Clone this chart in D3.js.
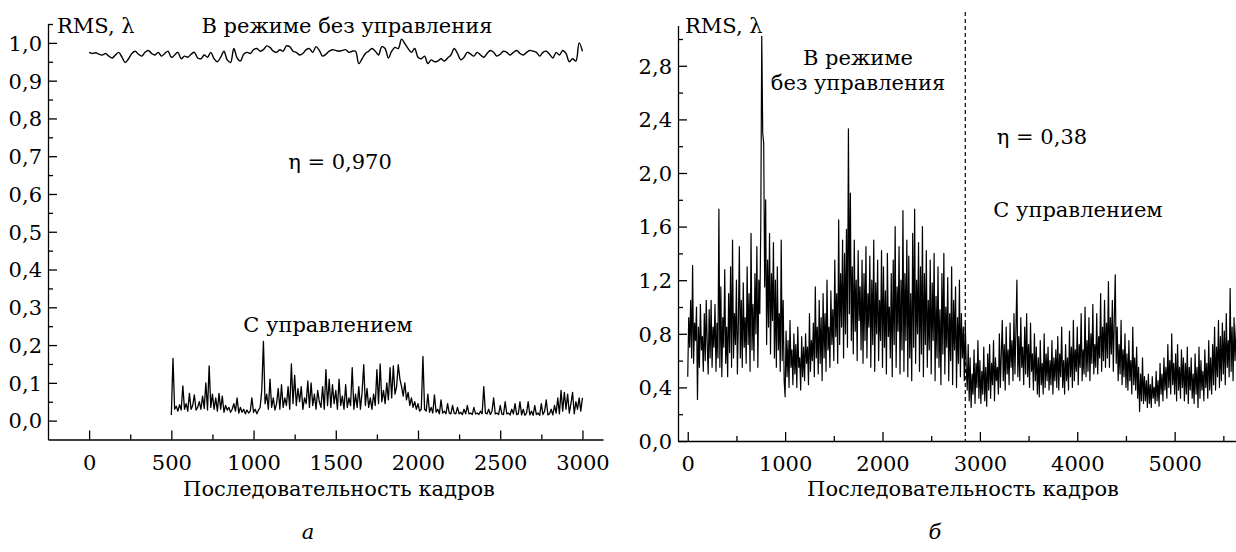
<!DOCTYPE html>
<html>
<head>
<meta charset="utf-8">
<script src="https://cdn.jsdelivr.net/npm/d3@7"></script>
<style>
  body { margin: 0; background: #fff; }
  svg text { font-family: "DejaVu Serif", "Liberation Serif", serif; font-size: 21px; fill: #000; }
  .axis path, .axis line { stroke: #000; stroke-width: 1.3; }
</style>
</head>
<body>
<div class="chart"></div>
<script>
//Data: panel a, frame step 20 (uncontrolled) and 10 (controlled)
const leftFreeStart = 0, leftFreeStep = 20;
const leftFree = [
  0.975,0.972,0.974,0.970,0.968,0.972,0.965,0.960,0.968,0.975,0.962,
  0.948,0.958,0.972,0.978,0.970,0.965,0.975,0.980,0.972,0.968,
  0.975,0.965,0.972,0.978,0.962,0.968,0.975,0.958,0.965,0.962,
  0.970,0.975,0.960,0.958,0.968,0.962,0.975,0.958,0.950,0.962,
  0.978,0.955,0.948,0.985,0.960,0.952,0.970,0.975,0.972,0.982,
  0.985,0.978,0.982,0.992,0.988,0.978,0.975,0.982,0.978,0.992,
  0.990,0.978,0.975,0.968,0.972,0.982,0.985,0.975,0.990,0.980,
  0.965,0.970,0.978,0.982,0.980,0.978,0.980,0.982,0.975,0.978,
  0.978,0.945,0.958,0.972,0.978,0.985,0.978,0.968,0.990,0.985,
  0.960,0.978,0.988,0.985,1.010,0.998,0.985,0.975,0.985,0.962,
  0.958,0.965,0.945,0.955,0.950,0.952,0.958,0.952,0.960,0.968,
  0.985,0.972,0.955,0.962,0.975,0.970,0.965,0.975,0.968,0.962,
  0.972,0.980,0.975,0.965,0.970,0.978,0.975,0.968,0.975,0.980,
  0.972,0.968,0.975,0.980,0.978,0.975,0.965,0.975,0.978,0.970,
  0.960,0.975,0.968,0.980,0.972,0.950,0.958,0.952,1.000,0.978
];

const leftCtrlStart = 500, leftCtrlStep = 10;
const leftCtrl = [
  0.015,0.165,0.030,0.038,0.025,0.042,0.028,0.092,0.030,0.045,
  0.025,0.072,0.030,0.040,0.068,0.028,0.035,0.050,0.030,0.065,
  0.032,0.100,0.028,0.145,0.035,0.070,0.030,0.060,0.025,0.072,
  0.030,0.065,0.022,0.040,0.028,0.035,0.022,0.030,0.045,0.025,
  0.060,0.020,0.035,0.022,0.030,0.018,0.028,0.020,0.025,0.060,
  0.022,0.030,0.018,0.028,0.035,0.080,0.210,0.045,0.070,0.030,
  0.110,0.035,0.060,0.028,0.045,0.085,0.030,0.095,0.035,0.060,
  0.040,0.090,0.030,0.150,0.045,0.120,0.040,0.085,0.050,0.090,
  0.030,0.060,0.045,0.105,0.035,0.100,0.040,0.070,0.030,0.080,
  0.050,0.035,0.090,0.030,0.135,0.040,0.110,0.035,0.095,0.045,
  0.080,0.030,0.110,0.040,0.065,0.030,0.095,0.035,0.060,0.040,
  0.140,0.030,0.070,0.035,0.090,0.030,0.075,0.148,0.040,0.085,
  0.035,0.060,0.030,0.070,0.040,0.135,0.045,0.150,0.050,0.080,
  0.045,0.100,0.055,0.140,0.060,0.145,0.070,0.090,0.148,0.110,
  0.090,0.065,0.100,0.055,0.075,0.040,0.060,0.035,0.050,0.030,
  0.045,0.025,0.030,0.170,0.030,0.025,0.070,0.022,0.035,0.020,
  0.068,0.022,0.030,0.018,0.055,0.020,0.025,0.018,0.045,0.020,
  0.018,0.040,0.020,0.018,0.035,0.018,0.022,0.016,0.030,0.018,
  0.040,0.018,0.020,0.016,0.035,0.018,0.020,0.016,0.025,0.018,
  0.090,0.020,0.018,0.030,0.016,0.025,0.060,0.018,0.020,0.016,
  0.040,0.018,0.016,0.050,0.018,0.020,0.015,0.030,0.018,0.045,
  0.016,0.018,0.050,0.015,0.030,0.014,0.020,0.050,0.015,0.025,
  0.014,0.040,0.016,0.020,0.014,0.045,0.016,0.025,0.055,0.015,
  0.018,0.030,0.015,0.040,0.020,0.060,0.018,0.080,0.025,0.075,
  0.030,0.070,0.020,0.045,0.075,0.018,0.050,0.030,0.060,0.025,
  0.060
];

//Data: panel б, frame step 10, dashed switch at 2850
const rightFreeStart = 0, rightStep = 10, switchFrame = 2850;
const rightFree = [
  0.48,0.92,0.70,1.05,0.62,1.31,0.58,0.88,0.75,1.00,
  0.31,0.85,0.55,1.02,0.68,0.78,0.52,0.95,0.60,1.05,
  0.72,0.50,0.98,0.62,1.05,0.55,0.85,0.70,1.02,0.52,
  0.88,0.62,1.73,0.55,1.15,0.48,0.92,0.70,1.28,0.58,
  0.85,0.48,1.10,0.66,1.30,0.55,1.50,0.62,0.95,0.72,
  1.20,0.50,0.88,1.45,0.62,1.05,0.55,1.18,0.70,0.92,
  0.58,1.30,0.72,1.10,0.52,1.55,0.68,1.02,0.60,1.25,
  0.80,1.45,0.55,1.20,0.95,1.60,3.02,2.30,2.22,1.15,
  1.80,0.72,1.35,0.85,1.55,0.65,1.25,0.90,1.48,0.62,
  1.20,0.55,1.30,0.68,0.95,0.52,1.50,0.60,1.05,0.45,
  0.33,0.82,0.48,0.75,0.40,0.90,0.55,0.68,0.42,0.80,
  0.50,0.72,0.40,0.85,0.55,0.62,0.38,0.78,0.48,0.70,
  0.45,0.80,0.58,0.70,0.42,0.95,0.52,0.75,0.60,0.88,
  0.48,1.15,0.62,0.85,0.50,1.05,0.58,0.92,0.45,1.10,
  0.62,0.95,0.52,1.20,0.68,0.85,0.55,1.12,0.72,0.98,
  0.60,1.35,0.78,1.10,0.58,1.65,0.72,1.25,0.85,1.50,
  0.62,1.40,0.80,1.58,0.70,2.33,0.95,1.85,0.75,1.30,
  0.65,1.50,0.82,1.20,0.60,1.42,0.90,1.15,0.68,1.35,
  0.58,1.25,0.75,1.45,0.62,1.10,0.85,1.38,0.55,1.20,
  0.72,1.50,0.52,1.18,0.80,1.35,0.60,1.05,0.75,1.42,
  0.55,1.30,0.70,1.12,0.50,1.40,0.78,1.00,0.62,1.25,
  0.48,1.35,0.72,1.60,0.55,1.15,0.82,1.45,0.50,1.20,
  0.68,1.72,0.52,1.25,0.75,1.50,0.48,1.38,0.62,1.10,
  0.45,1.55,0.70,1.73,0.58,1.20,0.80,1.48,0.52,1.30,
  0.65,1.60,0.48,1.25,0.72,1.42,0.55,1.05,0.68,1.35,
  0.50,1.18,0.75,1.40,0.45,1.08,0.62,1.30,0.55,0.98,
  0.42,1.25,0.65,1.40,0.50,1.00,0.70,1.22,0.45,0.95,
  0.60,1.30,0.42,1.05,0.68,1.15,0.40,0.92,0.58,1.20,
  0.48,0.95,0.62,0.85,0.45,0.88
];
const rightCtrl = [
  0.55,0.38,0.72,0.30,0.62,0.25,0.50,0.35,0.68,0.28,0.58,0.40,0.75,0.32,
  0.60,0.28,0.52,0.35,0.70,0.30,0.55,0.26,0.65,0.38,
  0.72,0.32,0.58,0.42,0.75,0.30,0.62,0.45,0.55,0.35,
  0.80,0.40,0.65,0.90,0.45,0.72,0.38,0.85,0.50,0.68,
  0.42,0.88,0.55,0.75,0.45,0.95,0.50,0.82,1.20,0.48,
  0.78,0.45,0.92,0.55,0.70,0.42,0.85,0.50,0.95,0.48,
  0.72,0.40,0.88,0.52,0.65,0.38,0.80,0.45,0.70,0.35,
  0.62,0.33,0.75,0.42,0.58,0.35,0.80,0.40,0.65,0.45,
  0.70,0.38,0.60,0.42,0.75,0.35,0.62,0.45,0.68,0.40,
  0.78,0.38,0.65,0.48,0.85,0.40,0.60,0.35,0.72,0.45,
  0.62,0.38,0.82,0.48,0.70,0.40,0.90,0.45,0.68,0.52,
  0.85,0.42,0.72,0.55,0.95,0.45,0.68,0.50,1.00,0.48,
  0.75,0.52,0.92,0.45,0.80,0.58,1.02,0.50,0.72,0.55,
  0.95,0.50,0.78,0.62,1.10,0.52,0.85,0.60,1.05,0.55,
  0.88,0.62,1.19,0.55,0.92,0.65,1.05,0.52,0.90,1.24,
  0.58,0.85,0.45,0.72,0.50,0.90,0.42,0.68,0.48,0.80,
  0.40,0.65,0.38,0.75,0.45,0.60,0.35,0.85,0.42,0.62,
  0.38,0.70,0.32,0.55,0.22,0.50,0.30,0.62,0.28,0.48,
  0.30,0.45,0.25,0.50,0.28,0.42,0.25,0.48,0.32,0.40,
  0.28,0.52,0.30,0.45,0.26,0.58,0.35,0.50,0.30,0.62,
  0.38,0.55,0.32,0.72,0.40,0.60,0.35,0.80,0.42,0.58,
  0.35,0.65,0.30,0.72,0.38,0.55,0.32,0.68,0.40,0.62,
  0.30,0.58,0.35,0.70,0.28,0.55,0.38,0.62,0.32,0.50,
  0.28,0.65,0.35,0.55,0.25,0.70,0.32,0.60,0.38,0.52,
  0.30,0.68,0.40,0.58,0.32,0.75,0.38,0.62,0.35,0.72,
  0.42,0.85,0.38,0.70,0.48,0.90,0.40,0.78,0.45,0.88,
  0.50,0.82,0.42,0.95,0.55,0.75,0.48,1.14,0.52,0.85,
  0.45,0.92,0.60,0.80,0.95
];

//Tick values
const leftYTicks = d3.range(0, 11).map(d => d / 10);
const leftXTicks = [0, 500, 1000, 1500, 2000, 2500, 3000];
const rightYTicks = [0, 0.4, 0.8, 1.2, 1.6, 2.0, 2.4, 2.8];
const rightXTicks = [0, 1000, 2000, 3000, 4000, 5000];

//Helpers
const oneDec = d3.format('.1f');
function fmt(d){ return oneDec(d).replace('.', ','); }

function toPoints(values, start, step){
    return values.map((v, i) => ({frame: start + i * step, rms: v}));
}

//Base
const svg = d3.select('.chart')
    .append('svg')
    .attr('width', 1236)
    .attr('height', 552);

function drawPanel(cfg){
    const g = svg.append('g');
    const x = d3.scaleLinear(cfg.xDomain, cfg.xRange);
    const y = d3.scaleLinear(cfg.yDomain, cfg.yRange);

    //minor ticks first, then major with labels
    g.append('g').attr('class', 'axis')
        .attr('transform', `translate(0, ${cfg.yRange[0]})`)
        .call(d3.axisTop(x).tickValues(cfg.xMinor).tickSize(5).tickFormat(''))
        .select('.domain').remove();
    g.append('g').attr('class', 'axis')
        .attr('transform', `translate(${cfg.xRange[0]}, 0)`)
        .call(d3.axisRight(y).tickValues(cfg.yMinor).tickSize(5).tickFormat(''))
        .select('.domain').remove();

    const xAxis = g.append('g').attr('class', 'axis')
        .attr('transform', `translate(0, ${cfg.yRange[0]})`)
        .call(d3.axisTop(x).tickValues(cfg.xTicks).tickSize(9).tickSizeOuter(0));
    xAxis.selectAll('text').remove();
    xAxis.selectAll('.tick').append('text')
        .attr('y', 30)
        .attr('text-anchor', 'middle')
        .text(d => d);

    const yAxis = g.append('g').attr('class', 'axis')
        .attr('transform', `translate(${cfg.xRange[0]}, 0)`)
        .call(d3.axisRight(y).tickValues(cfg.yTicks).tickSize(9).tickSizeOuter(0));
    yAxis.selectAll('text').remove();
    yAxis.selectAll('.tick').append('text')
        .attr('x', -6)
        .attr('dy', '0.35em')
        .attr('text-anchor', 'end')
        .text(d => fmt(d));

    cfg.series.forEach(s => {
        const line = d3.line().x(d => x(d.frame)).y(d => y(d.rms)).curve(s.curve || d3.curveLinear);
        g.append('path')
            .datum(s.points)
            .attr('d', line)
            .attr('fill', 'none')
            .attr('stroke', '#000')
            .attr('stroke-width', s.width)
            .attr('stroke-linejoin', 'round');
    });
    return {g, x, y};
}

//Panel a
const pa = drawPanel({
    xDomain: [-250, 3125], xRange: [48, 603],
    yDomain: [-0.05, 1.05], yRange: [439.5, 24],
    xTicks: leftXTicks, xMinor: d3.range(250, 3000, 500),
    yTicks: leftYTicks, yMinor: d3.range(0, 11).map(d => d / 10 + 0.05),
    series: [
        {points: toPoints(leftFree, leftFreeStart, leftFreeStep), width: 1.4, curve: d3.curveCatmullRom},
        {points: toPoints(leftCtrl, leftCtrlStart, leftCtrlStep), width: 1.3}
    ]
});
pa.g.append('text').attr('x', 57).attr('y', 33).text('RMS, λ');
pa.g.append('text').attr('x', 347).attr('y', 33).attr('text-anchor', 'middle').text('В режиме без управления');
pa.g.append('text').attr('x', 340).attr('y', 169).attr('text-anchor', 'middle').text('η = 0,970');
pa.g.append('text').attr('x', 328).attr('y', 332).attr('text-anchor', 'middle').text('С управлением');
pa.g.append('text').attr('x', 339).attr('y', 496).attr('text-anchor', 'middle').text('Последовательность кадров');
pa.g.append('text').attr('x', 308).attr('y', 539).attr('text-anchor', 'middle').style('font-style', 'italic').text('а');

//Panel б
const rightAll = toPoints(rightFree.concat(rightCtrl), rightFreeStart, rightStep);
const pb = drawPanel({
    xDomain: [-100, 5630], xRange: [678, 1236],
    yDomain: [0, 3.1], yRange: [441, 25.6],
    xTicks: rightXTicks, xMinor: d3.range(500, 5600, 1000),
    yTicks: rightYTicks, yMinor: d3.range(0.2, 3.1, 0.4),
    series: [{points: rightAll, width: 1.2}]
});
pb.g.append('line')
    .attr('x1', pb.x(switchFrame)).attr('x2', pb.x(switchFrame))
    .attr('y1', 12).attr('y2', pb.y(0))
    .attr('stroke', '#000').attr('stroke-width', 1.2)
    .attr('stroke-dasharray', '4,3');
pb.g.append('text').attr('x', 685).attr('y', 33).text('RMS, λ');
pb.g.append('text').attr('x', 858).attr('y', 65).attr('text-anchor', 'middle').text('В режиме');
pb.g.append('text').attr('x', 858).attr('y', 90).attr('text-anchor', 'middle').text('без управления');
pb.g.append('text').attr('x', 1042).attr('y', 144).attr('text-anchor', 'middle').text('η = 0,38');
pb.g.append('text').attr('x', 1078).attr('y', 217).attr('text-anchor', 'middle').text('С управлением');
pb.g.append('text').attr('x', 963).attr('y', 496).attr('text-anchor', 'middle').text('Последовательность кадров');
pb.g.append('text').attr('x', 935).attr('y', 539).attr('text-anchor', 'middle').style('font-style', 'italic').text('б');
</script>
</body>
</html>
